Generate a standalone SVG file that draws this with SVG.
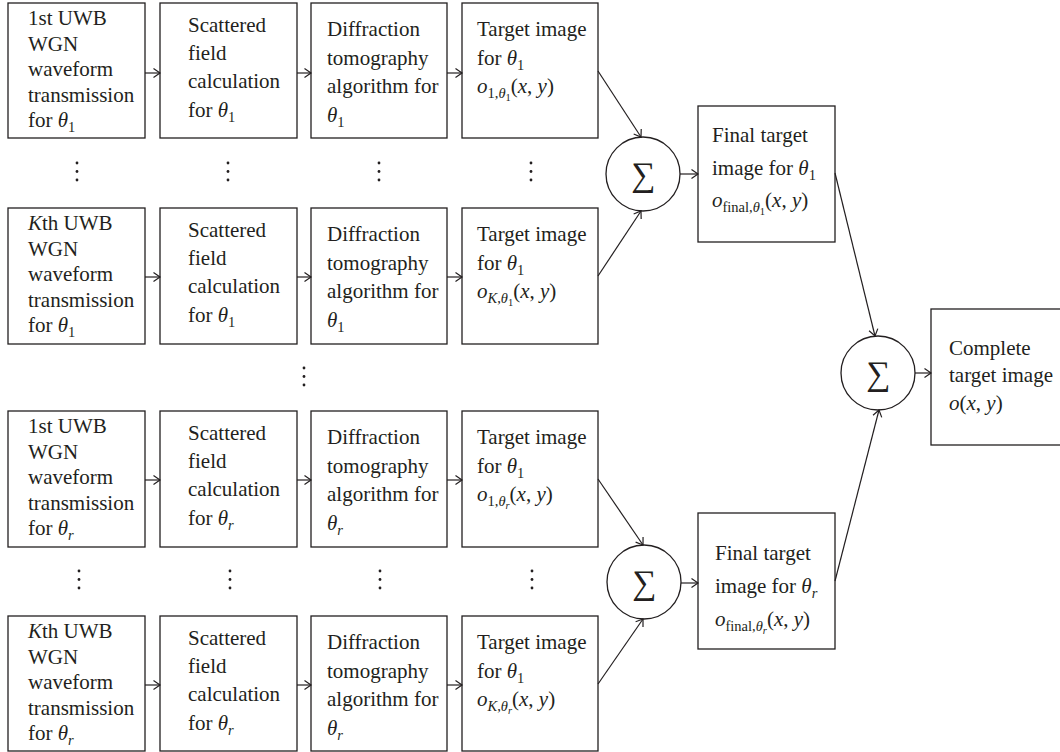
<svg xmlns="http://www.w3.org/2000/svg" width="1060" height="752" viewBox="0 0 1060 752">
<defs>
<style>
.box{fill:#fff;stroke:#231f20;stroke-width:1.3}
.t{font-family:"Liberation Serif","Times New Roman",serif;font-size:21px;fill:#231f20}
.i{font-style:italic}
.sub{font-size:14.5px}
.ss{font-size:10.5px}
.sig{font-family:"Liberation Serif","DejaVu Serif",serif;font-size:34px;fill:#231f20;text-anchor:middle}
.dot{fill:#231f20}
#connectors line{stroke:#231f20;stroke-width:1.2;marker-end:url(#ah)}
</style>
<marker id="ah" markerUnits="userSpaceOnUse" markerWidth="12" markerHeight="12" viewBox="0 0 12 12" refX="9" refY="6" orient="auto">
<path d="M2.5,1.5 L9,6 L2.5,10.5" fill="none" stroke="#231f20" stroke-width="1.2"/>
</marker>
</defs>
<rect width="1060" height="752" fill="#fff"/>

<!-- Row 1 (top 3) -->
<g id="r1b1"><rect class="box" x="8" y="3" width="137" height="135"/>
<text class="t" x="28" y="25">1st UWB</text><text class="t" x="28" y="50.5">WGN</text><text class="t" x="28" y="76">waveform</text><text class="t" x="28" y="101.5">transmission</text>
<text class="t" x="28" y="127">for <tspan class="i">θ</tspan><tspan class="sub" dy="5">1</tspan></text></g>
<g id="r1b2"><rect class="box" x="160" y="3" width="137" height="135"/>
<text class="t" x="188" y="32">Scattered</text><text class="t" x="188" y="60">field</text><text class="t" x="188" y="88">calculation</text>
<text class="t" x="188" y="117">for <tspan class="i">θ</tspan><tspan class="sub" dy="5">1</tspan></text></g>
<g id="r1b3"><rect class="box" x="311" y="3" width="136" height="135"/>
<text class="t" x="327" y="36">Diffraction</text><text class="t" x="327" y="65">tomography</text><text class="t" x="327" y="93">algorithm for</text>
<text class="t" x="327" y="122"><tspan class="i">θ</tspan><tspan class="sub" dy="5">1</tspan></text></g>
<g id="r1b4"><rect class="box" x="462" y="3" width="136" height="135"/>
<text class="t" x="477" y="36">Target image</text>
<text class="t" x="477" y="65">for <tspan class="i">θ</tspan><tspan class="sub" dy="5">1</tspan></text>
<text class="t" x="477" y="93"><tspan class="i">o</tspan><tspan class="sub" dy="5">1,</tspan><tspan class="sub i">θ</tspan><tspan class="ss" dy="3">1</tspan><tspan dy="-8">(</tspan><tspan class="i">x</tspan>, <tspan class="i">y</tspan>)</text></g>

<!-- Row 2 (top 208) -->
<g id="r2b1"><rect class="box" x="8" y="208" width="137" height="136"/>
<text class="t" x="28" y="230"><tspan class="i">K</tspan>th UWB</text><text class="t" x="28" y="255.5">WGN</text><text class="t" x="28" y="281">waveform</text><text class="t" x="28" y="306.5">transmission</text>
<text class="t" x="28" y="332">for <tspan class="i">θ</tspan><tspan class="sub" dy="5">1</tspan></text></g>
<g id="r2b2"><rect class="box" x="160" y="208" width="137" height="136"/>
<text class="t" x="188" y="237">Scattered</text><text class="t" x="188" y="265">field</text><text class="t" x="188" y="293">calculation</text>
<text class="t" x="188" y="322">for <tspan class="i">θ</tspan><tspan class="sub" dy="5">1</tspan></text></g>
<g id="r2b3"><rect class="box" x="311" y="208" width="136" height="136"/>
<text class="t" x="327" y="241">Diffraction</text><text class="t" x="327" y="270">tomography</text><text class="t" x="327" y="298">algorithm for</text>
<text class="t" x="327" y="327"><tspan class="i">θ</tspan><tspan class="sub" dy="5">1</tspan></text></g>
<g id="r2b4"><rect class="box" x="462" y="208" width="136" height="136"/>
<text class="t" x="477" y="241">Target image</text>
<text class="t" x="477" y="270">for <tspan class="i">θ</tspan><tspan class="sub" dy="5">1</tspan></text>
<text class="t" x="477" y="298"><tspan class="i">o</tspan><tspan class="sub i" dy="5">K</tspan><tspan class="sub">,</tspan><tspan class="sub i">θ</tspan><tspan class="ss" dy="3">1</tspan><tspan dy="-8">(</tspan><tspan class="i">x</tspan>, <tspan class="i">y</tspan>)</text></g>

<!-- Row 3 (top 411) -->
<g id="r3b1"><rect class="box" x="8" y="411" width="137" height="136"/>
<text class="t" x="28" y="433">1st UWB</text><text class="t" x="28" y="458.5">WGN</text><text class="t" x="28" y="484">waveform</text><text class="t" x="28" y="509.5">transmission</text>
<text class="t" x="28" y="535">for <tspan class="i">θ</tspan><tspan class="sub i" dy="5">r</tspan></text></g>
<g id="r3b2"><rect class="box" x="160" y="411" width="137" height="136"/>
<text class="t" x="188" y="440">Scattered</text><text class="t" x="188" y="468">field</text><text class="t" x="188" y="496">calculation</text>
<text class="t" x="188" y="525">for <tspan class="i">θ</tspan><tspan class="sub i" dy="5">r</tspan></text></g>
<g id="r3b3"><rect class="box" x="311" y="411" width="136" height="136"/>
<text class="t" x="327" y="444">Diffraction</text><text class="t" x="327" y="473">tomography</text><text class="t" x="327" y="501">algorithm for</text>
<text class="t" x="327" y="530"><tspan class="i">θ</tspan><tspan class="sub i" dy="5">r</tspan></text></g>
<g id="r3b4"><rect class="box" x="462" y="411" width="136" height="136"/>
<text class="t" x="477" y="444">Target image</text>
<text class="t" x="477" y="473">for <tspan class="i">θ</tspan><tspan class="sub" dy="5">1</tspan></text>
<text class="t" x="477" y="501"><tspan class="i">o</tspan><tspan class="sub" dy="5">1,</tspan><tspan class="sub i">θ</tspan><tspan class="ss i" dy="3">r</tspan><tspan dy="-8">(</tspan><tspan class="i">x</tspan>, <tspan class="i">y</tspan>)</text></g>

<!-- Row 4 (top 616) -->
<g id="r4b1"><rect class="box" x="8" y="616" width="137" height="135"/>
<text class="t" x="28" y="638"><tspan class="i">K</tspan>th UWB</text><text class="t" x="28" y="663.5">WGN</text><text class="t" x="28" y="689">waveform</text><text class="t" x="28" y="714.5">transmission</text>
<text class="t" x="28" y="740">for <tspan class="i">θ</tspan><tspan class="sub i" dy="5">r</tspan></text></g>
<g id="r4b2"><rect class="box" x="160" y="616" width="137" height="135"/>
<text class="t" x="188" y="645">Scattered</text><text class="t" x="188" y="673">field</text><text class="t" x="188" y="701">calculation</text>
<text class="t" x="188" y="730">for <tspan class="i">θ</tspan><tspan class="sub i" dy="5">r</tspan></text></g>
<g id="r4b3"><rect class="box" x="311" y="616" width="136" height="135"/>
<text class="t" x="327" y="649">Diffraction</text><text class="t" x="327" y="678">tomography</text><text class="t" x="327" y="706">algorithm for</text>
<text class="t" x="327" y="735"><tspan class="i">θ</tspan><tspan class="sub i" dy="5">r</tspan></text></g>
<g id="r4b4"><rect class="box" x="462" y="616" width="136" height="135"/>
<text class="t" x="477" y="649">Target image</text>
<text class="t" x="477" y="678">for <tspan class="i">θ</tspan><tspan class="sub" dy="5">1</tspan></text>
<text class="t" x="477" y="706"><tspan class="i">o</tspan><tspan class="sub i" dy="5">K</tspan><tspan class="sub">,</tspan><tspan class="sub i">θ</tspan><tspan class="ss i" dy="3">r</tspan><tspan dy="-8">(</tspan><tspan class="i">x</tspan>, <tspan class="i">y</tspan>)</text></g>

<!-- Sums -->
<g id="sum1"><circle class="box" cx="643" cy="174" r="37"/><text class="sig" x="643" y="186">∑</text></g>
<g id="sum3"><circle class="box" cx="644" cy="582" r="37"/><text class="sig" x="644" y="594">∑</text></g>
<g id="sum2"><circle class="box" cx="878" cy="373" r="37"/><text class="sig" x="878" y="385">∑</text></g>

<!-- Final boxes -->
<g id="final1"><rect class="box" x="698" y="106" width="137" height="136"/>
<text class="t" x="712" y="142">Final target</text>
<text class="t" x="712" y="175">image for <tspan class="i">θ</tspan><tspan class="sub" dy="5">1</tspan></text>
<text class="t" x="712" y="207"><tspan class="i">o</tspan><tspan class="sub" dy="5">final,</tspan><tspan class="sub i">θ</tspan><tspan class="ss" dy="3">1</tspan><tspan dy="-8">(</tspan><tspan class="i">x</tspan>, <tspan class="i">y</tspan>)</text></g>
<g id="final2"><rect class="box" x="698" y="513" width="137" height="136"/>
<text class="t" x="715" y="560">Final target</text>
<text class="t" x="715" y="593">image for <tspan class="i">θ</tspan><tspan class="sub i" dy="5">r</tspan></text>
<text class="t" x="715" y="626"><tspan class="i">o</tspan><tspan class="sub" dy="5">final,</tspan><tspan class="sub i">θ</tspan><tspan class="ss i" dy="3">r</tspan><tspan dy="-8">(</tspan><tspan class="i">x</tspan>, <tspan class="i">y</tspan>)</text></g>
<g id="complete"><rect class="box" x="931" y="309" width="150" height="136"/>
<text class="t" x="949" y="355">Complete</text>
<text class="t" x="949" y="382">target image</text>
<text class="t" x="949" y="410"><tspan class="i">o</tspan>(<tspan class="i">x</tspan>, <tspan class="i">y</tspan>)</text></g>

<!-- Continuation dots -->
<g id="dots">
<circle class="dot" cx="77" cy="163" r="1.4"/><circle class="dot" cx="77" cy="171.5" r="1.4"/><circle class="dot" cx="77" cy="180" r="1.4"/>
<circle class="dot" cx="228" cy="163" r="1.4"/><circle class="dot" cx="228" cy="171.5" r="1.4"/><circle class="dot" cx="228" cy="180" r="1.4"/>
<circle class="dot" cx="379" cy="163" r="1.4"/><circle class="dot" cx="379" cy="171.5" r="1.4"/><circle class="dot" cx="379" cy="180" r="1.4"/>
<circle class="dot" cx="531" cy="163" r="1.4"/><circle class="dot" cx="531" cy="171.5" r="1.4"/><circle class="dot" cx="531" cy="180" r="1.4"/>
<circle class="dot" cx="304" cy="368" r="1.4"/><circle class="dot" cx="304" cy="376.5" r="1.4"/><circle class="dot" cx="304" cy="385" r="1.4"/>
<circle class="dot" cx="79" cy="571" r="1.4"/><circle class="dot" cx="79" cy="579.5" r="1.4"/><circle class="dot" cx="79" cy="588" r="1.4"/>
<circle class="dot" cx="230" cy="571" r="1.4"/><circle class="dot" cx="230" cy="579.5" r="1.4"/><circle class="dot" cx="230" cy="588" r="1.4"/>
<circle class="dot" cx="380" cy="571" r="1.4"/><circle class="dot" cx="380" cy="579.5" r="1.4"/><circle class="dot" cx="380" cy="588" r="1.4"/>
<circle class="dot" cx="532" cy="571" r="1.4"/><circle class="dot" cx="532" cy="579.5" r="1.4"/><circle class="dot" cx="532" cy="588" r="1.4"/>
</g>

<g id="connectors">
<line x1="145" y1="73" x2="160" y2="73"/><line x1="297" y1="73" x2="311" y2="73"/><line x1="447" y1="73" x2="462" y2="73"/>
<line x1="145" y1="277" x2="160" y2="277"/><line x1="297" y1="277" x2="311" y2="277"/><line x1="447" y1="277" x2="462" y2="277"/>
<line x1="145" y1="480" x2="160" y2="480"/><line x1="297" y1="480" x2="311" y2="480"/><line x1="447" y1="480" x2="462" y2="480"/>
<line x1="145" y1="685" x2="160" y2="685"/><line x1="297" y1="685" x2="311" y2="685"/><line x1="447" y1="685" x2="462" y2="685"/>
<line x1="598" y1="71" x2="641" y2="137"/>
<line x1="598" y1="276" x2="641" y2="211"/>
<line x1="598" y1="479" x2="643" y2="545"/>
<line x1="598" y1="684" x2="643" y2="619"/>
<line x1="680" y1="174" x2="698" y2="174"/>
<line x1="681" y1="583" x2="698" y2="583"/>
<line x1="835" y1="173" x2="875" y2="336"/>
<line x1="835" y1="581" x2="879" y2="410"/>
<line x1="915" y1="373" x2="931" y2="373"/>
</g>
</svg>
